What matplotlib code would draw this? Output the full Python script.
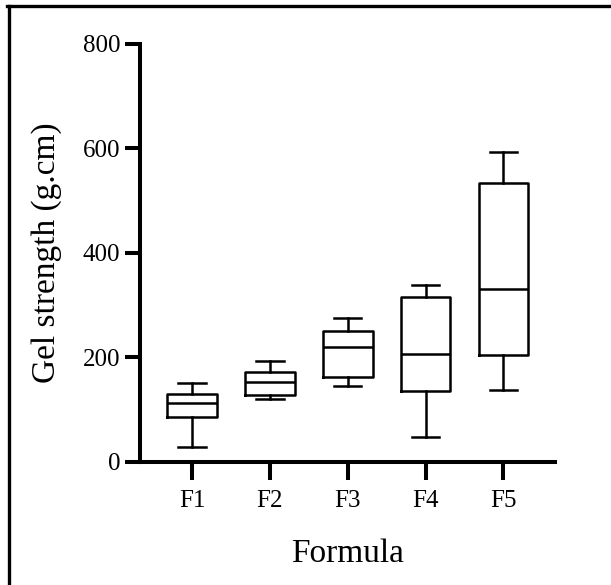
import matplotlib.pyplot as plt
from matplotlib.lines import Line2D

plt.rcParams['font.family'] = ['Liberation Serif', 'DejaVu Serif']

# Box plot summary
formulas = ['F1', 'F2', 'F3', 'F4', 'F5']
whisk_lo = [29, 121, 145, 48, 137]
q1 = [86, 128, 163, 135, 204]
medians = [113, 153, 221, 207, 332]
q3 = [130, 173, 250, 315, 534]
whisk_hi = [152, 193, 276, 339, 593]

stats = []
for i, name in enumerate(formulas):
    stats.append({'label': name, 'whislo': whisk_lo[i], 'q1': q1[i],
                  'med': medians[i], 'q3': q3[i], 'whishi': whisk_hi[i],
                  'fliers': []})

fig = plt.figure(figsize=(6.11, 5.85), dpi=100)
ax = fig.add_axes([0.229, 0.2103, 0.679, 0.7145])

lw = 1.8
ax.bxp(stats, positions=range(1, 6), widths=0.64, showfliers=False,
       boxprops=dict(color='black', linewidth=lw),
       medianprops=dict(color='black', linewidth=lw),
       whiskerprops=dict(color='black', linewidth=lw),
       capprops=dict(color='black', linewidth=lw),
       capwidths=0.35)

ax.set_xlim(0.33, 5.66)
ax.set_ylim(0, 800)
ax.set_yticks([0, 200, 400, 600, 800])
ax.spines['top'].set_visible(False)
ax.spines['right'].set_visible(False)
ax.spines['left'].set_linewidth(2.9)
ax.spines['bottom'].set_linewidth(2.9)
ax.tick_params(axis='both', width=2.9, length=11, labelsize=18, pad=3)
ax.tick_params(axis='x', length=13, pad=7)
ax.set_xlabel('Formula', fontsize=24, labelpad=19)
ax.set_ylabel('Gel strength (g.cm)', fontsize=24, labelpad=15)

# frame around the figure (only top and left edges visible)
fig.add_artist(Line2D([8.5 / 611, 8.5 / 611], [0, 1 - 5.5 / 585],
                      transform=fig.transFigure, color='black', linewidth=2.4))
fig.add_artist(Line2D([7 / 611, 1], [1 - 5.5 / 585, 1 - 5.5 / 585],
                      transform=fig.transFigure, color='black', linewidth=2.4))

fig.savefig('out.png', dpi=100)
